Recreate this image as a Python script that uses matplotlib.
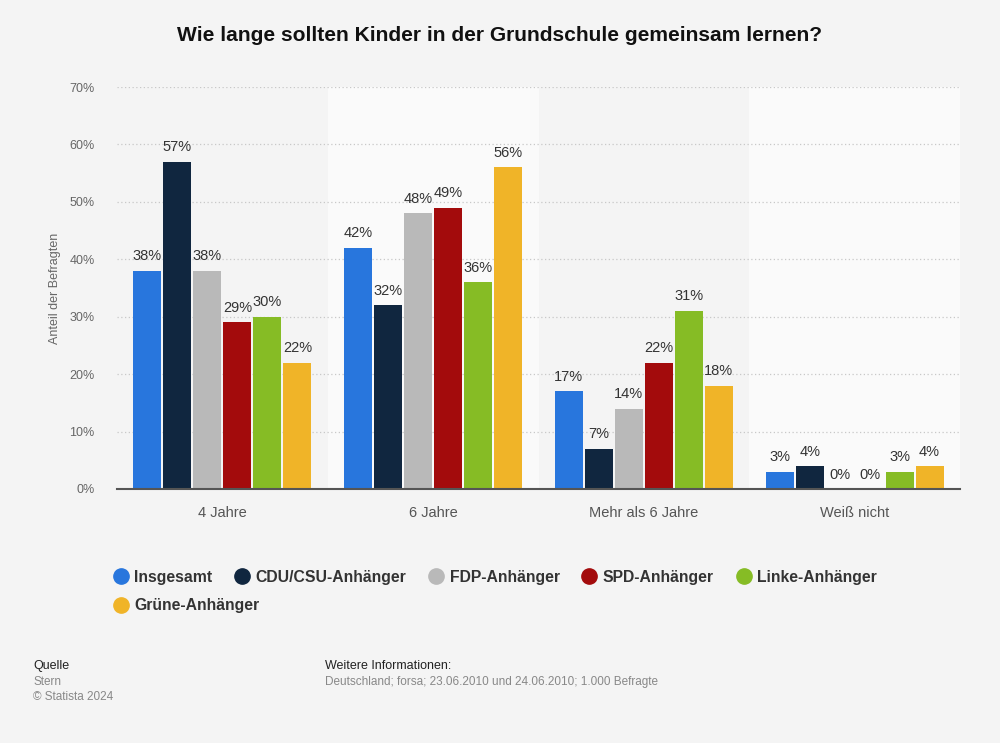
import numpy as np
import matplotlib.pyplot as plt

plt.rcParams['font.family'] = ['Liberation Sans', 'DejaVu Sans']

# daten
kategorien = ['4 Jahre', '6 Jahre', 'Mehr als 6 Jahre', 'Weiß nicht']
gruppen = ['Insgesamt', 'CDU/CSU-Anhänger', 'FDP-Anhänger', 'SPD-Anhänger',
           'Linke-Anhänger', 'Grüne-Anhänger']
insgesamt = [38, 42, 17, 3]
cdu_csu = [57, 32, 7, 4]
fdp = [38, 48, 14, 0]
spd = [29, 49, 22, 0]
linke = [30, 36, 31, 3]
gruene = [22, 56, 18, 4]
werte = [insgesamt, cdu_csu, fdp, spd, linke, gruene]
farben = ['#2876dd', '#10263f', '#b9b9b9', '#a30b0c', '#86bc25', '#f0b428']
y_ticks = [0, 10, 20, 30, 40, 50, 60, 70]

bg = '#f4f4f4'
fig = plt.figure(figsize=(10, 7.43), dpi=100, facecolor=bg)
ax = fig.add_axes([0.117, 0.3419, 0.843, 0.541])
ax.set_facecolor(bg)

x = np.arange(len(kategorien))
schritt = 0.1423
breite = 0.133

# hintergrund-streifen
for i in range(len(kategorien)):
    if i % 2 == 1:
        ax.axvspan(i - 0.5, i + 0.5, color='#fafafa', zorder=0, lw=0)

for yt in y_ticks[1:]:
    ax.axhline(yt, color='#c8c8c8', lw=0.9, ls=(0, (1, 2)), zorder=1)

for j, (vals, col) in enumerate(zip(werte, farben)):
    pos = x + (j - 2.5) * schritt
    bars = ax.bar(pos, vals, width=breite, color=col, zorder=2, label=gruppen[j])
    for p, v in zip(pos, vals):
        ax.text(p, v + 1.3, f'{v}%', ha='center', va='bottom', fontsize=10.5,
                color='#333333', zorder=3)

ax.set_xlim(-0.5, len(kategorien) - 0.5)
ax.set_ylim(0, 70)
ax.set_yticks(y_ticks)
ax.set_yticklabels([f'{t}%' for t in y_ticks])
ax.set_xticks(x)
ax.set_xticklabels(kategorien)
ax.tick_params(axis='y', length=0, labelsize=9, labelcolor='#666666', pad=16)
ax.tick_params(axis='x', length=0, labelsize=10.5, labelcolor='#555555', pad=12)
for s in ['top', 'right', 'left']:
    ax.spines[s].set_visible(False)
ax.spines['bottom'].set_color('#555555')
ax.spines['bottom'].set_linewidth(1.5)
ax.spines['bottom'].set_zorder(4)
ax.set_ylabel('Anteil der Befragten', fontsize=9, color='#666666', labelpad=6)

fig.text(0.5, 0.952, 'Wie lange sollten Kinder in der Grundschule gemeinsam lernen?',
         ha='center', va='center', fontsize=15.1, fontweight='bold', color='#111111')

# legende
handles = [plt.Line2D([], [], marker='o', ls='', markersize=11, color=c) for c in farben]
leg1 = fig.legend(handles[:5], gruppen[:5], loc='center left', bbox_to_anchor=(0.095, 0.223),
                  ncol=5, frameon=False, handletextpad=0.1, columnspacing=1.15,
                  handlelength=1.5, prop={'weight': 'bold', 'size': 11.3})
for t in leg1.get_texts():
    t.set_color('#333333')
leg2 = fig.legend(handles[5:], gruppen[5:], loc='center left', bbox_to_anchor=(0.095, 0.185),
                  frameon=False, handletextpad=0.1, handlelength=1.5,
                  prop={'weight': 'bold', 'size': 11.3})
for t in leg2.get_texts():
    t.set_color('#333333')

# fusszeile
fig.text(0.033, 1 - 666 / 743, 'Quelle', fontsize=9, color='#222222', va='center')
fig.text(0.033, 1 - 682 / 743, 'Stern', fontsize=8.5, color='#888888', va='center')
fig.text(0.033, 1 - 697 / 743, '© Statista 2024', fontsize=8.5, color='#888888', va='center')
fig.text(0.325, 1 - 666 / 743, 'Weitere Informationen:', fontsize=9, color='#222222', va='center')
fig.text(0.325, 1 - 682 / 743, 'Deutschland; forsa; 23.06.2010 und 24.06.2010; 1.000 Befragte',
         fontsize=8.5, color='#888888', va='center')

fig.savefig('out.png', dpi=100, facecolor=bg)
